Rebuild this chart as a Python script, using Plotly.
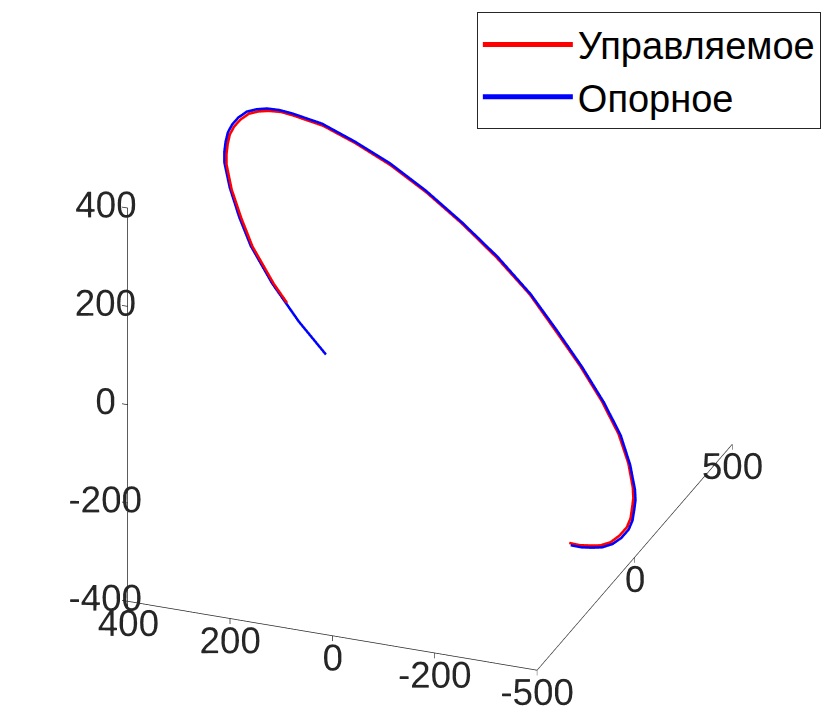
import plotly.graph_objects as go

# Reference trajectory ("Опорное")
ref_x = [19, 81, 148, 210, 257, 303, 344, 360, 374, 386, 394, 398, 398, 395, 390, 381, 370, 338, 297, 246,
         188, 125, 57, -12, -73, -137, -200, -257, -303, -343, -360, -374, -387, -396, -398, -397, -393, -389,
         -383, -376]
ref_y = [-483, -459, -420, -367, -303, -231, -151, -109, -66, -23, 20, 63, 106, 148, 188, 228, 265, 334, 393, 440,
         473, 492, 496, 485, 459, 420, 367, 303, 231, 151, 109, 66, 23, -20, -63, -106, -148, -188, -228, -265]
ref_z = [161, 206, 254, 295, 316, 335, 342, 342, 340, 337, 332, 326, 318, 304, 288, 268, 246, 199, 143, 86,
         25, -37, -97, -156, -207, -252, -289, -316, -335, -342, -341, -338, -338, -335, -332, -325, -313, -296,
         -278, -258]

# Controlled trajectory ("Управляемое")
ctl_x = [117, 150, 212, 258, 304, 344, 360, 374, 386, 394, 398, 390, 387, 382, 373, 363, 331, 290, 240, 182,
         120, 53, -16, -76, -139, -202, -258, -304, -343, -360, -374, -387, -396, -398, -397, -393, -389, -383,
         -376]
ctl_y = [-425, -406, -353, -290, -219, -140, -98, -55, -13, 30, 72, 95, 137, 176, 216, 252, 321, 379, 426, 458,
         477, 481, 470, 444, 406, 353, 290, 219, 140, 98, 55, 13, -30, -72, -115, -157, -196, -236, -272]
ctl_z = [222, 246, 287, 308, 326, 333, 333, 331, 328, 323, 317, 320, 306, 290, 271, 249, 202, 147, 90, 30,
         -31, -91, -149, -200, -244, -281, -308, -326, -333, -332, -329, -329, -326, -323, -317, -305, -288, -270,
         -250]

x_ticks = [-200, 0, 200, 400]
x_text = ["-200", "0", "200", "400"]
y_ticks = [-500, 0, 500]
y_text = ["-500", "0", "500"]
z_ticks = [-400, -200, 0, 200, 400]
z_text = ["-400", "-200", "0", "200", "400"]

FONT = "Liberation Sans, Arial, Helvetica, sans-serif"
AX = "#262626"

fig = go.Figure()
fig.add_trace(go.Scatter3d(x=ctl_x, y=ctl_y, z=ctl_z, mode="lines",
                           line=dict(color="#ff0000", width=5), name="Управляемое"))
fig.add_trace(go.Scatter3d(x=ref_x, y=ref_y, z=ref_z, mode="lines",
                           line=dict(color="#0000ff", width=5), name="Опорное"))

common = dict(showbackground=False, showgrid=False, zeroline=False, showline=True,
              linecolor=AX, linewidth=1.5, ticks="outside", ticklen=6, tickcolor=AX,
              tickwidth=1.5, showspikes=False, title=dict(text=""), tickangle=0,
              tickfont=dict(size=21, color=AX, family=FONT))

S = 1.214
fig.update_layout(
    width=825, height=722,
    margin=dict(l=0, r=0, t=0, b=0),
    paper_bgcolor="white",
    font=dict(family=FONT, color=AX),
    scene=dict(
        domain=dict(x=[0.0, 1.0], y=[0.0, 1.0]),
        xaxis=dict(range=[-400, 400], tickvals=x_ticks, ticktext=x_text, **common),
        yaxis=dict(range=[-500, 500], tickvals=y_ticks, ticktext=y_text, **common),
        zaxis=dict(range=[-400, 400], tickvals=z_ticks, ticktext=z_text, **common),
        aspectmode="manual", aspectratio=dict(x=S, y=S * 1.25, z=S),
        camera=dict(eye=dict(x=0.989, y=2.458, z=-1.411), up=dict(x=0, y=0, z=1),
                    center=dict(x=0.0299, y=-0.0571, z=-0.0866),
                    projection=dict(type="orthographic")),
    ),
    legend=dict(x=0.578, y=0.983, xanchor="left", yanchor="top", itemwidth=90,
                bordercolor=AX, borderwidth=1, bgcolor="white",
                font=dict(size=38, family=FONT, color="#000000")),
)

fig.write_html("out.html")
